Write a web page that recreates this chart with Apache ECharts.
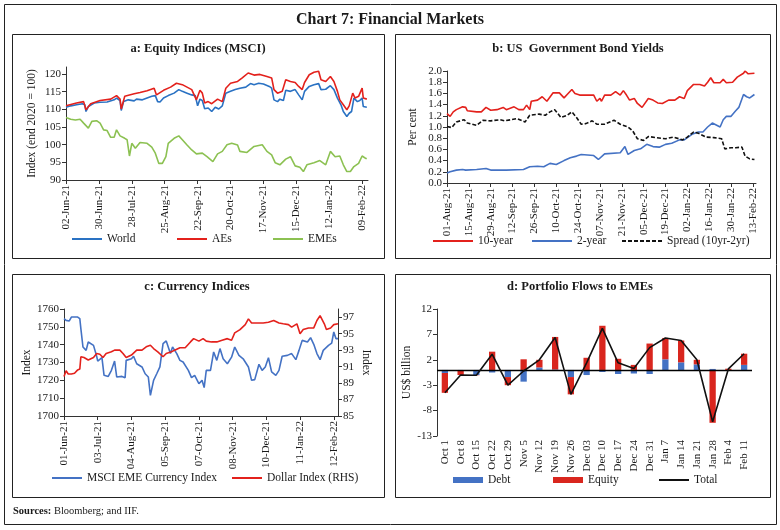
<!DOCTYPE html>
<html><head><meta charset="utf-8">
<script src="https://cdn.jsdelivr.net/npm/echarts@6/dist/echarts.min.js"></script>
<style>html,body{margin:0;padding:0;background:#fff}#wrap{position:relative;width:780px;height:530px}#c,#d{position:absolute;left:0;top:0;width:780px;height:530px}</style>
</head><body><div id="wrap"><div id="c"></div><div id="d"></div></div>
<script>
// ---------- Panel a: Equity Indices (MSCI), day offsets from 02-Jun-21 ----------
const aTicks = ['02-Jun-21','30-Jun-21','28-Jul-21','25-Aug-21','22-Sep-21','20-Oct-21','17-Nov-21','15-Dec-21','12-Jan-22','09-Feb-22'];
const aYTicks = [90,95,100,105,110,115,120];
const worldDays = [0,4,9,14,16,17,19,24,29,35,41,43,46,47,49,53,58,60,65,69,73,76,78,80,83,87,92,96,99,103,107,110,112,114,116,118,121,124,127,130,133,136,140,144,148,153,157,160,164,168,173,175,177,180,182,185,187,191,195,198,201,203,207,211,215,217,221,225,228,231,234,236,239,241,243,245,248,250,252,253,256];
const worldVals = [110.6,111.0,111.3,111.6,111.3,109.4,110.8,111.8,112.0,112.1,112.7,113.2,112.5,109.7,112.2,112.7,112.4,112.9,112.7,113.2,113.7,113.9,112.2,112.1,113.2,113.9,114.6,115.6,115.1,114.6,114.1,113.9,111.0,112.9,112.5,110.2,110.4,109.4,110.6,110.1,111.0,114.6,115.1,115.6,116.0,116.3,117.3,117.0,117.4,117.2,116.5,116.0,112.7,112.2,112.9,112.5,115.4,115.1,115.6,114.1,112.7,115.1,116.5,117.0,117.3,115.6,115.7,116.7,115.6,113.2,111.3,109.4,108.0,108.9,109.4,113.2,112.2,112.5,113.2,110.8,110.6];
const aesDays = [0,9,15,17,21,29,38,43,46,47,50,58,63,69,75,77,83,89,94,99,107,111,114,116,118,121,124,129,133,136,140,146,150,155,160,165,171,175,177,180,184,187,191,195,198,201,203,207,211,215,217,221,225,228,231,233,236,239,241,244,246,249,252,253,256];
const aesVals = [111.0,111.8,112.2,109.9,111.6,112.5,112.9,113.9,112.9,110.1,113.7,114.4,114.8,115.3,116.0,114.1,115.4,116.3,117.4,117.0,115.6,112.7,115.4,114.6,111.8,112.2,111.6,112.9,112.2,116.0,117.4,117.9,118.9,120.3,119.7,119.9,119.3,118.9,115.6,114.6,115.1,118.4,117.9,117.6,116.5,115.6,117.6,119.8,120.5,120.8,118.4,117.9,119.3,117.9,115.1,112.7,111.3,109.9,111.0,114.6,113.2,113.7,116.0,113.2,112.9];
const emesDays = [0,4,8,12,15,19,22,26,29,32,35,38,41,43,46,50,52,54,56,59,63,69,73,76,79,82,85,87,92,96,99,103,107,111,116,120,125,129,133,137,141,146,148,154,160,167,171,175,178,182,187,191,195,199,202,205,211,216,221,225,229,233,236,239,242,245,249,252,255,256];
const emesVals = [107.7,107.2,107.0,107.2,106.1,104.7,106.6,106.8,106.1,104.2,104.0,102.1,102.1,104.2,102.5,101.8,101.4,96.8,100.4,99.0,100.6,100.4,99.3,97.6,94.7,94.7,96.6,100.4,101.8,102.5,101.4,99.9,98.5,97.4,97.6,96.6,95.2,97.4,98.1,100.0,100.4,99.9,98.1,97.8,99.5,100.0,98.1,97.1,94.9,94.3,95.9,96.6,94.0,93.6,92.4,94.3,94.9,95.5,94.3,98.1,96.6,96.8,94.3,92.4,92.4,93.8,94.7,96.8,96.1,96.1];

// ---------- Panel b: US Government Bond Yields, day offsets from 01-Aug-21 ----------
const bTicks = ['01-Aug-21','15-Aug-21','29-Aug-21','12-Sep-21','26-Sep-21','10-Oct-21','24-Oct-21','07-Nov-21','21-Nov-21','05-Dec-21','19-Dec-21','02-Jan-22','16-Jan-22','30-Jan-22','13-Feb-22'];
const y10Days = [0,2,4,6,10,12,13,19,22,25,28,32,36,38,43,46,49,51,53,54,58,61,64,68,72,75,77,80,82,85,89,94,96,98,99,101,105,108,111,113,115,117,120,122,125,126,129,132,135,138,142,146,149,152,154,158,162,165,167,169,171,175,177,179,183,186,190,191,193,197];
const y10Vals = [1.24,1.19,1.27,1.31,1.36,1.35,1.29,1.27,1.27,1.35,1.30,1.31,1.35,1.31,1.36,1.31,1.31,1.39,1.31,1.46,1.48,1.54,1.46,1.61,1.61,1.52,1.58,1.67,1.60,1.57,1.57,1.57,1.46,1.51,1.46,1.57,1.57,1.63,1.57,1.65,1.57,1.48,1.51,1.42,1.35,1.36,1.51,1.48,1.43,1.42,1.48,1.48,1.54,1.51,1.65,1.76,1.76,1.73,1.80,1.88,1.79,1.79,1.85,1.79,1.80,1.89,1.96,2.00,1.95,1.96];
const y2Days = [0,2,6,10,12,19,25,28,38,49,53,58,62,66,70,75,79,83,86,94,97,101,111,114,116,120,124,128,132,136,140,144,149,152,157,161,164,167,170,175,177,179,182,185,187,190,192,194,197];
const y2Vals = [0.18,0.20,0.23,0.24,0.23,0.24,0.26,0.23,0.23,0.24,0.29,0.30,0.29,0.35,0.33,0.40,0.45,0.48,0.51,0.49,0.42,0.52,0.54,0.65,0.51,0.58,0.61,0.69,0.65,0.64,0.69,0.71,0.77,0.77,0.87,0.91,0.91,1.00,1.07,1.00,1.13,1.19,1.19,1.29,1.35,1.58,1.54,1.52,1.58];
const sprDays = [0,3,6,11,13,19,23,28,34,37,45,50,53,59,63,66,69,73,77,80,83,86,89,93,96,101,107,111,116,119,122,126,129,134,140,145,151,154,158,161,166,171,176,178,182,185,189,191,194,197];
const sprVals = [1.01,0.99,1.09,1.13,1.07,1.03,1.12,1.11,1.13,1.11,1.15,1.09,1.21,1.23,1.21,1.27,1.31,1.17,1.21,1.27,1.17,1.05,1.06,1.11,1.05,1.05,1.12,1.05,1.00,0.93,0.79,0.76,0.83,0.81,0.79,0.82,0.77,0.82,0.91,0.89,0.82,0.81,0.79,0.61,0.63,0.63,0.64,0.48,0.43,0.42];

// ---------- Panel c: Currency Indices, day offsets from 01-Jun-21 ----------
const cTicks = ['01-Jun-21','03-Jul-21','04-Aug-21','05-Sep-21','07-Oct-21','08-Nov-21','10-Dec-21','11-Jan-22','12-Feb-22'];
const emeCurDays = [0,2,5,7,13,15,16,18,21,23,28,31,32,36,38,42,45,48,50,55,58,59,64,66,69,74,77,80,82,83,85,88,91,94,97,101,103,107,110,113,118,121,124,128,131,133,135,139,142,145,148,151,155,159,162,166,170,175,178,181,185,188,191,194,197,201,204,207,212,216,220,223,226,231,234,237,240,243,246,251,254,256,258,260];
const emeCurVals = [1754.6,1753.6,1753.3,1755.5,1755.5,1754.6,1749.0,1738.7,1736.8,1741.5,1739.6,1733.5,1730.8,1732.7,1722.8,1722.2,1725.6,1730.8,1721.9,1722.2,1721.5,1731.2,1732.1,1733.5,1729.3,1727.5,1723.7,1721.9,1711.6,1711.0,1720.0,1723.7,1727.5,1740.6,1742.1,1735.0,1738.7,1735.0,1731.2,1730.3,1725.6,1721.5,1722.8,1718.1,1720.0,1715.9,1725.6,1725.6,1735.9,1731.2,1737.8,1732.1,1729.3,1733.0,1738.7,1734.0,1732.1,1727.5,1720.0,1720.4,1729.0,1725.6,1727.5,1732.7,1724.7,1722.8,1725.6,1733.5,1734.0,1735.0,1731.6,1736.8,1742.4,1741.5,1743.9,1740.2,1735.0,1731.6,1736.8,1739.6,1740.9,1747.1,1743.4,1743.4];
const dxyDays = [0,2,4,7,10,13,15,16,19,23,28,31,34,37,40,45,48,53,56,59,64,69,74,78,82,85,89,94,97,102,105,110,115,120,123,128,132,135,140,145,150,155,159,162,167,172,175,178,183,189,194,199,204,208,213,216,221,224,227,232,237,240,243,247,249,253,256,260];
const dxyVals = [89.8,90.5,90.1,90.1,90.2,90.6,90.7,92.2,92.1,91.8,92.1,92.6,92.5,92.1,92.6,92.8,93.0,93.0,92.6,92.1,92.4,93.0,93.0,93.4,93.6,93.2,92.8,92.2,92.6,92.8,93.0,93.3,93.3,94.0,94.4,94.1,94.4,94.1,94.0,94.0,94.2,94.4,94.2,95.1,95.5,96.1,96.8,96.3,96.3,96.3,96.4,96.6,96.3,96.2,96.1,95.8,96.2,95.0,95.5,95.7,95.7,96.6,97.2,96.2,95.5,95.7,96.1,96.2];
const dxyTicks = [85,87,89,91,93,95,97];

// ---------- Panel d: Portfolio Flows to EMEs (US$ billion) ----------
const dCats = ['Oct 1','Oct 8','Oct 15','Oct 22','Oct 29','Nov 5','Nov 12','Nov 19','Nov 26','Dec 03','Dec 10','Dec 17','Dec 24','Dec 31','Jan 7','Jan 14','Jan 21','Jan 28','Feb 4','Feb 11'];
const debtVals = [-0.6,-0.1,-1.0,-0.5,-1.4,-2.3,0.5,0.1,-1.4,-1.0,-0.4,-0.8,-0.7,-0.8,2.1,1.5,1.1,0.2,-0.05,1.0];
const equityVals = [-3.9,-0.9,-0.05,3.6,-1.6,2.1,1.5,6.4,-3.4,2.4,8.7,2.2,1.0,5.2,4.2,4.3,0.9,-10.4,0.25,2.2];
const totalVals = [-4.5,-1.0,-1.05,3.1,-3.0,-0.2,2.0,6.4,-4.8,1.4,8.2,1.4,0.3,4.4,6.3,5.8,2.0,-10.2,0.2,3.2];

// ---------- helpers ----------
const MON = ['Jan','Feb','Mar','Apr','May','Jun','Jul','Aug','Sep','Oct','Nov','Dec'];
function parseLbl(s){const p=s.split('-');return Date.UTC(2000+ +p[2],MON.indexOf(p[1]),+p[0]);}
function offsets(lbls){const s=parseLbl(lbls[0]);return lbls.map(l=>Math.round((parseLbl(l)-s)/86400000));}
function pairs(d,v){return d.map((x,i)=>[x,v[i]]);}
const FONT = 'Liberation Serif';
const AX = '#333';
const TXT = '#1a1a1a';
const lab = {fontFamily:FONT,fontSize:11,color:TXT};
const plain = v => String(v);

function timeX(grid, ticks, max){
  const vals = offsets(ticks);
  return {type:'value',gridIndex:grid,min:0,max:max,
    axisLine:{show:true,onZero:false,lineStyle:{color:AX,width:1}},
    axisTick:{show:true,customValues:vals,length:4,lineStyle:{color:AX}},
    axisLabel:Object.assign({customValues:vals,rotate:90,margin:5,
      formatter:v=>{const i=vals.indexOf(Math.round(v));return i>=0?ticks[i]:'';}},lab),
    splitLine:{show:false}};
}
function valY(grid,o){
  return Object.assign({type:'value',gridIndex:grid,
    axisLine:{show:true,lineStyle:{color:AX,width:1}},
    axisTick:{show:true,length:4,lineStyle:{color:AX}},
    axisLabel:Object.assign({margin:5,formatter:plain},lab),
    splitLine:{show:false},
    nameLocation:'middle',nameTextStyle:{fontFamily:FONT,fontSize:11.5,color:TXT}},o);
}
function line(name,x,y,data,color,extra){
  return Object.assign({name,type:'line',xAxisIndex:x,yAxisIndex:y,data,symbol:'none',
    lineStyle:{color,width:1.6},itemStyle:{color}},extra||{});
}
// dashed legend icon path (drawing shape, not data)
let dashPath = 'path://';
for (let x = 0; x < 40; x += 6) dashPath += 'M' + x + ' 0H' + Math.min(x + 4, 40) + 'V2H' + x + 'Z';
function lg(name,left,top,w,h,icon){
  return {data:[name],left,top,itemWidth:w,itemHeight:h||2,itemGap:0,padding:0,icon:icon||'rect',
    textStyle:{fontFamily:FONT,fontSize:11.5,color:TXT},selectedMode:false};
}
function frame(x,y,w,h){return {type:'rect',shape:{x:x+0.5,y:y+0.5,width:w,height:h},style:{fill:'none',stroke:'#222',lineWidth:1},silent:true};}
function txt(t,x,y,size,bold){return {type:'text',x,y,style:{text:t,font:(bold?'bold ':'')+size+'px "'+FONT+'"',fill:TXT,align:'center',verticalAlign:'middle'},silent:true};}

// ---- main instance: panels a, b, c, frames and titles ----
const chart = echarts.init(document.getElementById('c'));
chart.setOption({
  animation:false,
  backgroundColor:'#fff',
  grid:[
    {left:66,right:412,top:67,bottom:350},
    {left:447,right:24,top:71,bottom:347},
    {left:64,right:442,top:309,bottom:114}
  ],
  xAxis:[timeX(0,aTicks,257),timeX(1,bTicks,198),timeX(2,cTicks,260)],
  yAxis:[
    valY(0,{min:90,max:122,name:'Index (end 2020 = 100)',nameGap:28,
      axisTick:{show:true,length:4,customValues:aYTicks,lineStyle:{color:AX}},
      axisLabel:Object.assign({margin:5,customValues:aYTicks,formatter:plain},lab)}),
    valY(1,{min:0,max:2,interval:0.2,name:'Per cent',nameGap:28,
      axisLabel:Object.assign({margin:5,formatter:v=>v.toFixed(1)},lab)}),
    valY(2,{min:1700,max:1760,interval:10,name:'Index',nameGap:29}),
    valY(2,{position:'right',min:85,max:98,name:'Index',nameGap:22,nameRotate:-90,
      axisTick:{show:true,length:4,customValues:dxyTicks,lineStyle:{color:AX}},
      axisLabel:Object.assign({margin:5,customValues:dxyTicks,formatter:plain},lab)})
  ],
  legend:[
    lg('World',72,233,30),
    lg('AEs',177,233,30),
    lg('EMEs',273,233,30),
    lg('10-year',433,235,40),
    lg('2-year',532,235,40),
    lg('Spread (10yr-2yr)',622,235,40,2,dashPath),
    lg('MSCI EME Currency Index',52,472,30),
    lg('Dollar Index (RHS)',232,472,30)
  ],
  series:[
    line('World',0,0,pairs(worldDays,worldVals),'#2a72c3'),
    line('AEs',0,0,pairs(aesDays,aesVals),'#e3211c'),
    line('EMEs',0,0,pairs(emesDays,emesVals),'#8cc152'),
    line('10-year',1,1,pairs(y10Days,y10Vals),'#e3211c'),
    line('2-year',1,1,pairs(y2Days,y2Vals),'#4472c4'),
    line('Spread (10yr-2yr)',1,1,pairs(sprDays,sprVals),'#111',{lineStyle:{color:'#111',width:1.6,type:[4,2]}}),
    line('MSCI EME Currency Index',2,2,pairs(emeCurDays,emeCurVals),'#4472c4'),
    line('Dollar Index (RHS)',2,3,pairs(dxyDays,dxyVals),'#e3211c')
  ],
  graphic:[
    frame(4,4,772,520),
    frame(12,34,372,224),
    frame(395,34,375,224),
    frame(12,274,372,223),
    frame(395,274,375,223),
    txt('Chart 7: Financial Markets',390,20,16,true),
    txt('a: Equity Indices (MSCI)',198,49,12.5,true),
    txt('b: US  Government Bond Yields',578,49,12.5,true),
    txt('c: Currency Indices',197,287,12.5,true),
    txt('d: Portfolio Flows to EMEs',580,287,12.5,true),
    {type:'text',x:13,y:511,style:{text:'{b|Sources:} Bloomberg; and IIF.',font:'10.5px "'+FONT+'"',fill:TXT,verticalAlign:'middle',
      rich:{b:{fontWeight:'bold',fontFamily:FONT,fontSize:10.5}}},silent:true}
  ]
});

// ---- overlay instance: panel d ----
const chartD = echarts.init(document.getElementById('d'));
chartD.setOption({
  animation:false,
  grid:[{left:437,right:28,top:309,bottom:94}],
  xAxis:[{type:'category',data:dCats,
    axisLine:{show:false,onZero:false},axisTick:{show:false},
    axisLabel:Object.assign({rotate:90,margin:4,interval:0},lab),splitLine:{show:false}}],
  yAxis:[valY(0,{min:-13,max:12,interval:5,name:'US$ billion',nameGap:20})],
  legend:[
    lg('Debt',453,474,30,6),
    lg('Equity',553,474,30,6),
    lg('Total',659,474,30,2)
  ],
  series:[
    {name:'Debt',type:'bar',stack:'flow',data:debtVals,barWidth:'40%',itemStyle:{color:'#4472c4'}},
    {name:'Equity',type:'bar',stack:'flow',data:equityVals,barWidth:'40%',itemStyle:{color:'#d9261e'}},
    line('Total',0,0,totalVals,'#111',{z:5,
      markLine:{silent:true,symbol:'none',label:{show:false},lineStyle:{color:'#000',width:1.3,type:'solid'},data:[{yAxis:0}]}})
  ]
});
</script></body></html>
